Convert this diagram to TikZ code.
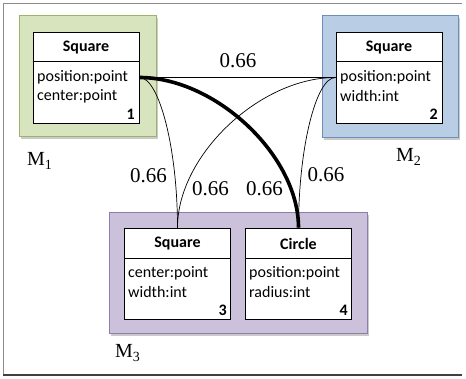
\documentclass[tikz,border=0pt]{standalone}
\usepackage{fontspec}
\newfontfamily\boxfont{Carlito}
\newfontfamily\lblfont{Liberation Serif}
\usetikzlibrary{shadows}
\definecolor{gfill}{HTML}{D7E4BD}
\definecolor{gdraw}{HTML}{9BB46A}
\definecolor{bfill}{HTML}{B9CDE5}
\definecolor{bdraw}{HTML}{6F8FBB}
\definecolor{pfill}{HTML}{CCC1DA}
\definecolor{pdraw}{HTML}{8E7CAC}
\definecolor{framegray}{HTML}{8C8C8C}
\newcommand{\mdl}[1]{M\raisebox{-0.35ex}{\fontsize{14}{14}\selectfont #1}}
\tikzset{
  model/.style={draw, line width=1pt, inner sep=0pt,
    drop shadow={shadow xshift=2pt, shadow yshift=-2pt, opacity=0.35, fill=black!60}},
  classbox/.style={draw, fill=white, line width=0.9pt, inner sep=0pt,
    minimum width=106pt, minimum height=91pt},
  boxtxt/.style={font=\boxfont\fontsize{16}{19}\selectfont, inner sep=0pt},
  hdr/.style={font=\boxfont\bfseries\fontsize{16}{19}\selectfont, inner sep=0pt},
  wlabel/.style={font=\lblfont\fontsize{21}{25}\selectfont, inner sep=0pt},
  mlabel/.style={font=\lblfont\fontsize{20}{24}\selectfont, inner sep=0pt, anchor=base west},
  edge/.style={line width=0.7pt},
  bigedge/.style={line width=3.6pt}
}
\begin{document}
\begin{tikzpicture}[x=1pt,y=-1pt]
\useasboundingbox (0,0) rectangle (466,379);
% frame
\draw[framegray, line width=0.9pt] (462,3) -- (3,3) -- (3,375);
\draw[black!75, line width=1.3pt] (3,375) -- (462,375);

% model boxes
\node[model, fill=gfill, draw=gdraw, minimum width=137pt, minimum height=121pt] (m1) at (87.5,76.5) {};
\node[model, fill=bfill, draw=bdraw, minimum width=136pt, minimum height=122pt] (m2) at (390,77) {};
\node[model, fill=pfill, draw=pdraw, minimum width=258pt, minimum height=121pt] (m3) at (238,273.5) {};

% class boxes
\node[classbox] (b1) at (86,77.5) {};
\node[classbox] (b2) at (389,77.5) {};
\node[classbox] (b3) at (177.5,273.5) {};
\node[classbox] (b4) at (298.5,273.5) {};

\draw[line width=0.9pt] ([yshift=-30pt]b1.north west) -- ([yshift=-30pt]b1.north east);
\draw[line width=0.9pt] ([yshift=-30pt]b2.north west) -- ([yshift=-30pt]b2.north east);
\draw[line width=0.9pt] ([yshift=-31pt]b3.north west) -- ([yshift=-31pt]b3.north east);
\draw[line width=0.9pt] ([yshift=-31pt]b4.north west) -- ([yshift=-31pt]b4.north east);

% box 1
\node[hdr] (h1) at (86,48) {Square};
\node[boxtxt, anchor=west] (a1a) at (37,77) {position:point};
\node[boxtxt, anchor=west] (a1b) at (37,96) {center:point};
\node[hdr, anchor=east] (n1) at (135,114) {1};
% box 2
\node[hdr] (h2) at (389,48) {Square};
\node[boxtxt, anchor=west] (a2a) at (340,77) {position:point};
\node[boxtxt, anchor=west] (a2b) at (340,96) {width:int};
\node[hdr, anchor=east] (n2) at (438,114) {2};
% box 3
\node[hdr] (h3) at (177.5,244) {Square};
\node[boxtxt, anchor=west] (a3a) at (128,273) {center:point};
\node[boxtxt, anchor=west] (a3b) at (128,292) {width:int};
\node[hdr, anchor=east] (n3) at (227,310) {3};
% box 4
\node[hdr] (h4) at (298.5,244) {Circle};
\node[boxtxt, anchor=west] (a4a) at (249,273) {position:point};
\node[boxtxt, anchor=west] (a4b) at (249,292) {radius:int};
\node[hdr, anchor=east] (n4) at (348,310) {4};

% model labels
\node[mlabel] (l1) at (27,166) {\mdl{1}};
\node[mlabel] (l2) at (396,162) {\mdl{2}};
\node[mlabel] (l3) at (115,358) {\mdl{3}};

% edges
\draw[edge] (b1.east) -- (b2.west);
\draw[edge] (b1.east) .. controls +(20,0) and +(0,-78) .. (b3.north);
\draw[edge] (b2.west) .. controls +(-20,0) and +(0,-78) .. (b4.north);
\draw[edge] (b2.west) .. controls +(-76,0) and +(0,-72) .. (b3.north);
\draw[bigedge] (b1.east) .. controls +(76,0) and +(0,-72) .. (b4.north);

% weights
\node[wlabel] (w12) at (238,61) {0.66};
\node[wlabel] (w13) at (148.5,176) {0.66};
\node[wlabel] (w23) at (210.5,188.5) {0.66};
\node[wlabel] (w14) at (264.5,188.5) {0.66};
\node[wlabel] (w24) at (326,175) {0.66};
\end{tikzpicture}
\end{document}
